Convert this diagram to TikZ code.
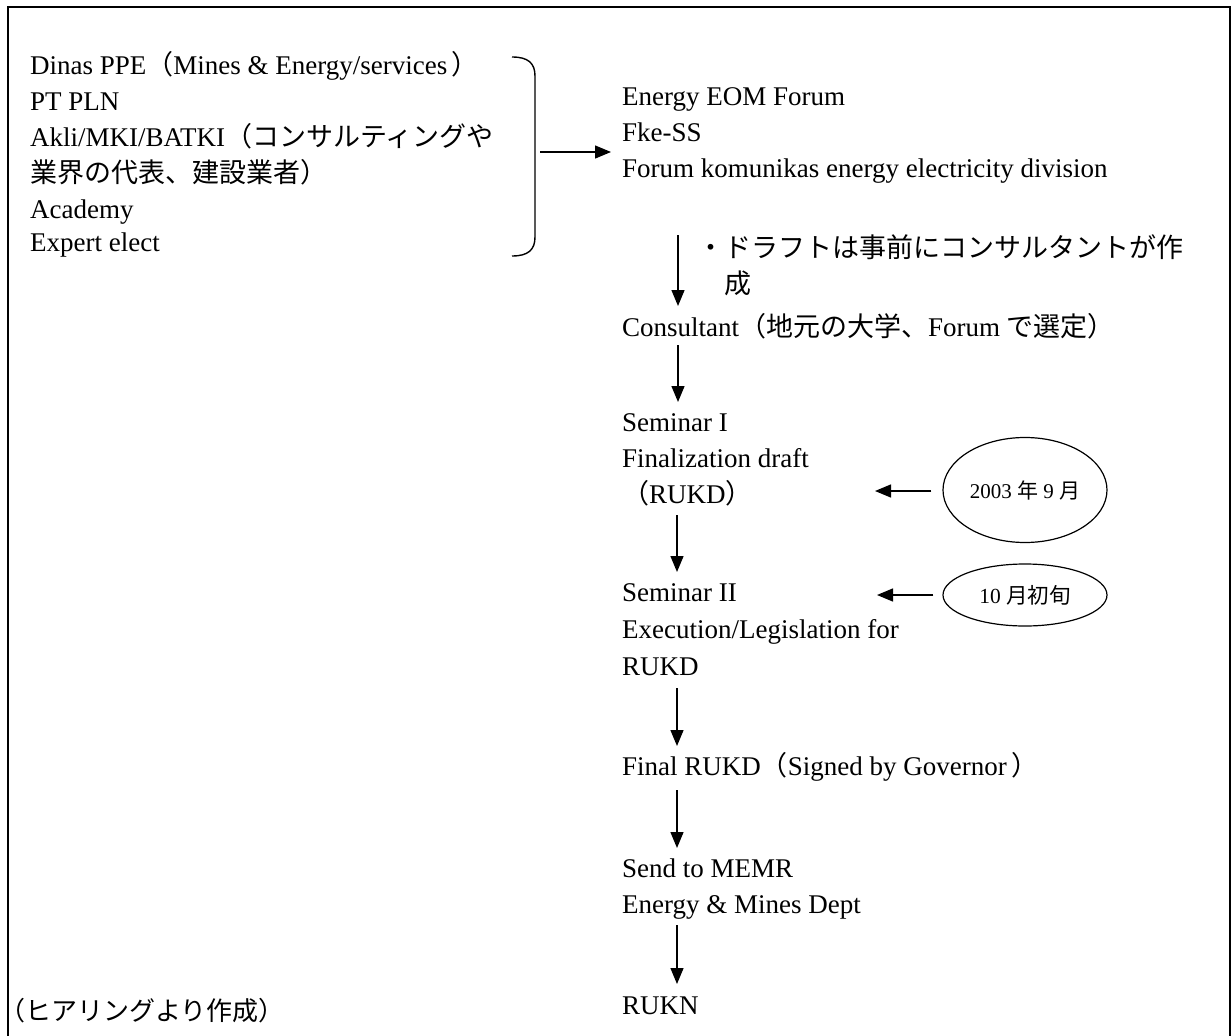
\documentclass[tikz,border=0pt]{standalone}
\usepackage{fontspec}
\setmainfont{Liberation Serif}
\newfontfamily\jp{Noto Sans CJK JP}[Scale=1.0]
\usetikzlibrary{arrows.meta,shapes.geometric}
\begin{document}
\begin{tikzpicture}[x=1pt,y=-1pt,
  txt/.style={anchor=base west, inner sep=0pt, font=\fontsize{27}{31}\selectfont},
  flow/.style={line width=1.4pt, -{Triangle[length=16pt,width=13pt]}},
  oval/.style={ellipse, draw, line width=1.2pt, inner sep=0pt, minimum width=164pt}]
\useasboundingbox (0,0) rectangle (1232,1036);
% frame
\draw[line width=1.6pt] (8,1036) -- (8,7) -- (1230,7) -- (1230,1036);

% left list
\node[txt] (l1) at (30,74)  {Dinas PPE{\jp（}Mines \& Energy/services\,{\jp ）}};
\node[txt] (l2) at (30,110) {PT PLN};
\node[txt] (l3) at (30,146) {Akli/MKI/BATKI{\jp（コンサルティングや}};
\node[txt] (l4) at (30,182) {{\jp 業界の代表、建設業者）}};
\node[txt] (l5) at (30,218) {Academy};
\node[txt] (l6) at (30,251) {Expert elect};

% brace
\draw[line width=1.4pt] (512,57) .. controls (528,57) and (535,63) .. (535,76)
  -- (535,237) .. controls (535,250) and (528,256) .. (512,256);
\coordinate (bs) at (540,152);
\coordinate (be) at (611,152);
\draw[flow] (bs) -- (be);

% right list
\node[txt] (r1) at (622,105) {Energy EOM Forum};
\node[txt] (r2) at (622,141) {Fke-SS};
\node[txt] (r3) at (622,177) {Forum komunikas energy electricity division};

% note
\node[txt] (n1) at (697,257) {{\jp ・ドラフトは事前にコンサルタントが作}};
\node[txt] (n2) at (724,293) {{\jp 成}};

% flow column
\node[txt] (c1) at (622,336) {Consultant{\jp（地元の大学、}Forum {\jp で選定）}};
\node[txt] (s1a) at (622,431) {Seminar I};
\node[txt] (s1b) at (622,467) {Finalization draft};
\node[txt] (s1c) at (622,503) {{\jp（}RUKD{\jp）}};
\node[txt] (s2a) at (622,601) {Seminar II};
\node[txt] (s2b) at (622,638) {Execution/Legislation for};
\node[txt] (s2c) at (622,675) {RUKD};
\node[txt] (f1) at (622,775) {Final RUKD{\jp（}Signed by Governor\,{\jp）}};
\node[txt] (m1) at (622,877) {Send to MEMR};
\node[txt] (m2) at (622,913) {Energy \& Mines Dept};
\node[txt] (k1) at (622,1014) {RUKN};

% vertical arrows
\coordinate (v1s) at (678,235); \coordinate (v1e) at (678,306);
\coordinate (v2s) at (678,345); \coordinate (v2e) at (678,402);
\coordinate (v3s) at (677,515); \coordinate (v3e) at (677,572);
\coordinate (v4s) at (677,688); \coordinate (v4e) at (677,746);
\coordinate (v5s) at (677,790); \coordinate (v5e) at (677,848);
\coordinate (v6s) at (677,925); \coordinate (v6e) at (677,984);
\foreach \i in {1,...,6} {\draw[flow] (v\i s) -- (v\i e);}

% ellipses
\node[oval, minimum height=105pt] (e1) at (1025,490)
  {\fontsize{21}{25}\selectfont 2003 {\jp 年} 9 {\jp 月}};
\node[oval, minimum height=62pt] (e2) at (1025,595)
  {\fontsize{21.5}{25}\selectfont 10 {\jp 月初旬}};
\coordinate (t1) at (875,491);
\coordinate (t2) at (877,595);
\draw[flow] ([xshift=-11pt]e1.west |- t1) -- (t1);
\draw[flow] ([xshift=-9pt]e2.west |- t2) -- (t2);

% bottom note
\node[txt] (src) at (-1,1020) {{\jp\fontsize{26}{30}\selectfont（ヒアリングより作成）}};
\end{tikzpicture}
\end{document}
